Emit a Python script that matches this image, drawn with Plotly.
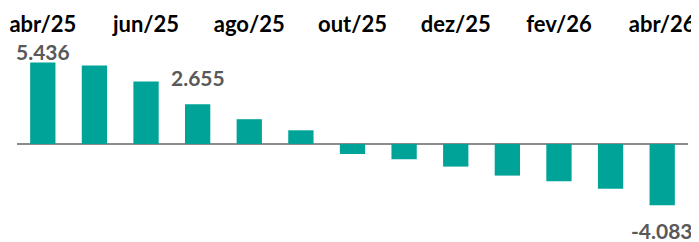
import plotly.graph_objects as go

months = ["abr/25", "mai/25", "jun/25", "jul/25", "ago/25", "set/25", "out/25",
          "nov/25", "dez/25", "jan/26", "fev/26", "mar/26", "abr/26"]
values = [5.436, 5.23, 4.17, 2.655, 1.65, 0.91, -0.67, -1.02, -1.51, -2.11, -2.49, -2.98, -4.083]
tick_months = months[::2]
labeled = {0: -4, 3: 12, 12: -11}  # index -> pixel offset of value label

fig = go.Figure(go.Bar(x=months, y=values, marker=dict(color="#00A398", line=dict(width=0)),
                       width=0.49, hoverinfo="skip"))

for i, dy in labeled.items():
    fig.add_annotation(x=months[i], y=values[i], text=f"{values[i]:.3f}",
                       showarrow=False, yshift=dy,
                       yanchor="bottom" if values[i] > 0 else "top",
                       font=dict(family="Lato", size=21, color="#595959", weight="bold"))

# page body has an 8px margin, so the figure is sized/offset to compensate
fig.update_layout(
    width=691, height=234,
    margin=dict(l=9, r=11, t=32, b=10),
    paper_bgcolor="white", plot_bgcolor="white",
    showlegend=False,
    xaxis=dict(side="top", tickvals=tick_months, ticktext=tick_months, showgrid=False,
               showline=False, ticks="", automargin=False,
               tickfont=dict(family="Lato", size=22, color="#000000", weight="bold"),
               range=[-0.5, 12.5], ticklabelstandoff=3),
    yaxis=dict(range=[-5.87, 6.93], showgrid=False, showticklabels=False, ticks="",
               automargin=False,
               zeroline=True, zerolinecolor="#8C8C8C", zerolinewidth=2),
)
fig.write_html("out.html")
